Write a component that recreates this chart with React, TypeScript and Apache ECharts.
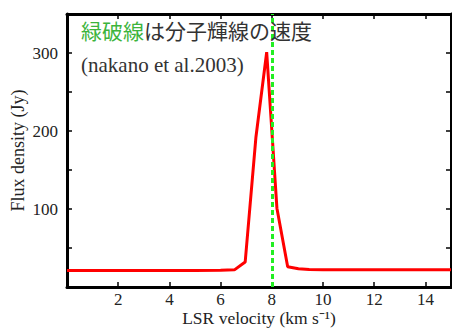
import React, { useEffect, useRef } from "react";
import * as echarts from "echarts";

const velocity = [0, 1, 2, 3, 4, 5, 6, 6.54, 6.96, 7.38, 7.8, 8.2, 8.62, 9.04, 9.46, 10, 11, 12, 13, 14, 15];
const flux = [21, 21, 21, 21, 21, 21, 21.5, 22, 32, 192, 301, 101, 26, 23.5, 22.5, 22, 22, 22, 22, 22, 22];
const lineVelocity = 8;
const titleGreen = "緑破線";
const titleRest = "は分子輝線の速度";
const citation = "(nakano et al.2003)";
const xName = "LSR velocity (km s⁻¹)";
const yName = "Flux density (Jy)";

export default function App() {
  const ref = useRef<HTMLDivElement>(null);
  useEffect(() => {
    const chart = echarts.init(ref.current!, null, { renderer: "svg" });
    const serif = "Liberation Serif";
    const axisCommon = {
      axisLine: { show: true, onZero: false, lineStyle: { color: "#000", width: 3 } },
      axisTick: { show: true, inside: true, length: 5, lineStyle: { color: "#000", width: 1.5 } },
      splitLine: { show: false },
    };
    chart.setOption({
      animation: false,
      backgroundColor: "#fff",
      grid: { left: 67, right: 1, top: 14, bottom: 42, outerBoundsMode: "none", containLabel: false },
      title: [
        {
          text: `{g|${titleGreen}}{k|${titleRest}}`,
          left: 76,
          top: 14,
          padding: 5,
          textStyle: {
            rich: {
              g: { fontFamily: "Noto Sans CJK JP", fontSize: 21, fontWeight: "normal", color: "#3cb43c" },
              k: { fontFamily: "Noto Sans CJK JP", fontSize: 21, fontWeight: "normal", color: "#333" },
            },
          },
        },
        {
          text: citation,
          left: 76,
          top: 49,
          padding: 5,
          textStyle: { fontFamily: serif, fontSize: 21, fontWeight: "normal", color: "#333" },
        },
      ],
      xAxis: [
        {
          type: "value",
          min: 0,
          max: 15,
          interval: 2,
          name: xName,
          nameLocation: "middle",
          nameGap: 23,
          nameMoveOverlap: false,
          nameTextStyle: { fontFamily: serif, fontSize: 17.5, lineHeight: 16, color: "#222" },
          axisLabel: {
            fontFamily: serif,
            fontSize: 17,
            lineHeight: 13,
            color: "#222",
            margin: 6,
            showMaxLabel: false,
            formatter: (v: number) => (v === 0 || v === 15 ? "" : String(v)),
          },
          ...axisCommon,
        },
        {
          type: "value",
          position: "top",
          min: 0,
          max: 15,
          interval: 2,
          axisLabel: { show: false },
          ...axisCommon,
        },
      ],
      yAxis: [
        {
          type: "value",
          min: 0,
          max: 350,
          interval: 50,
          name: yName,
          nameLocation: "middle",
          nameGap: 40,
          nameMoveOverlap: false,
          nameTextStyle: { fontFamily: serif, fontSize: 18, color: "#222" },
          axisLabel: {
            fontFamily: serif,
            fontSize: 17,
            color: "#222",
            margin: 9,
            formatter: (v: number) => (v % 100 === 0 && v > 0 && v < 350 ? String(v) : ""),
          },
          ...axisCommon,
        },
        {
          type: "value",
          position: "right",
          min: 0,
          max: 350,
          interval: 50,
          axisLabel: { show: false },
          ...axisCommon,
        },
      ],
      series: [
        {
          type: "line",
          data: velocity.map((v, i) => [v, flux[i]]),
          showSymbol: false,
          lineStyle: { color: "#ff0000", width: 3 },
          markLine: {
            silent: true,
            symbol: "none",
            label: { show: false },
            lineStyle: { color: "#22ee22", width: 3, type: [5, 3] },
            data: [{ xAxis: lineVelocity }],
          },
        },
      ],
    });
    return () => chart.dispose();
  }, []);
  return <div ref={ref} style={{ width: 452, height: 329, position: "absolute", left: 0, top: 0 }} />;
}
